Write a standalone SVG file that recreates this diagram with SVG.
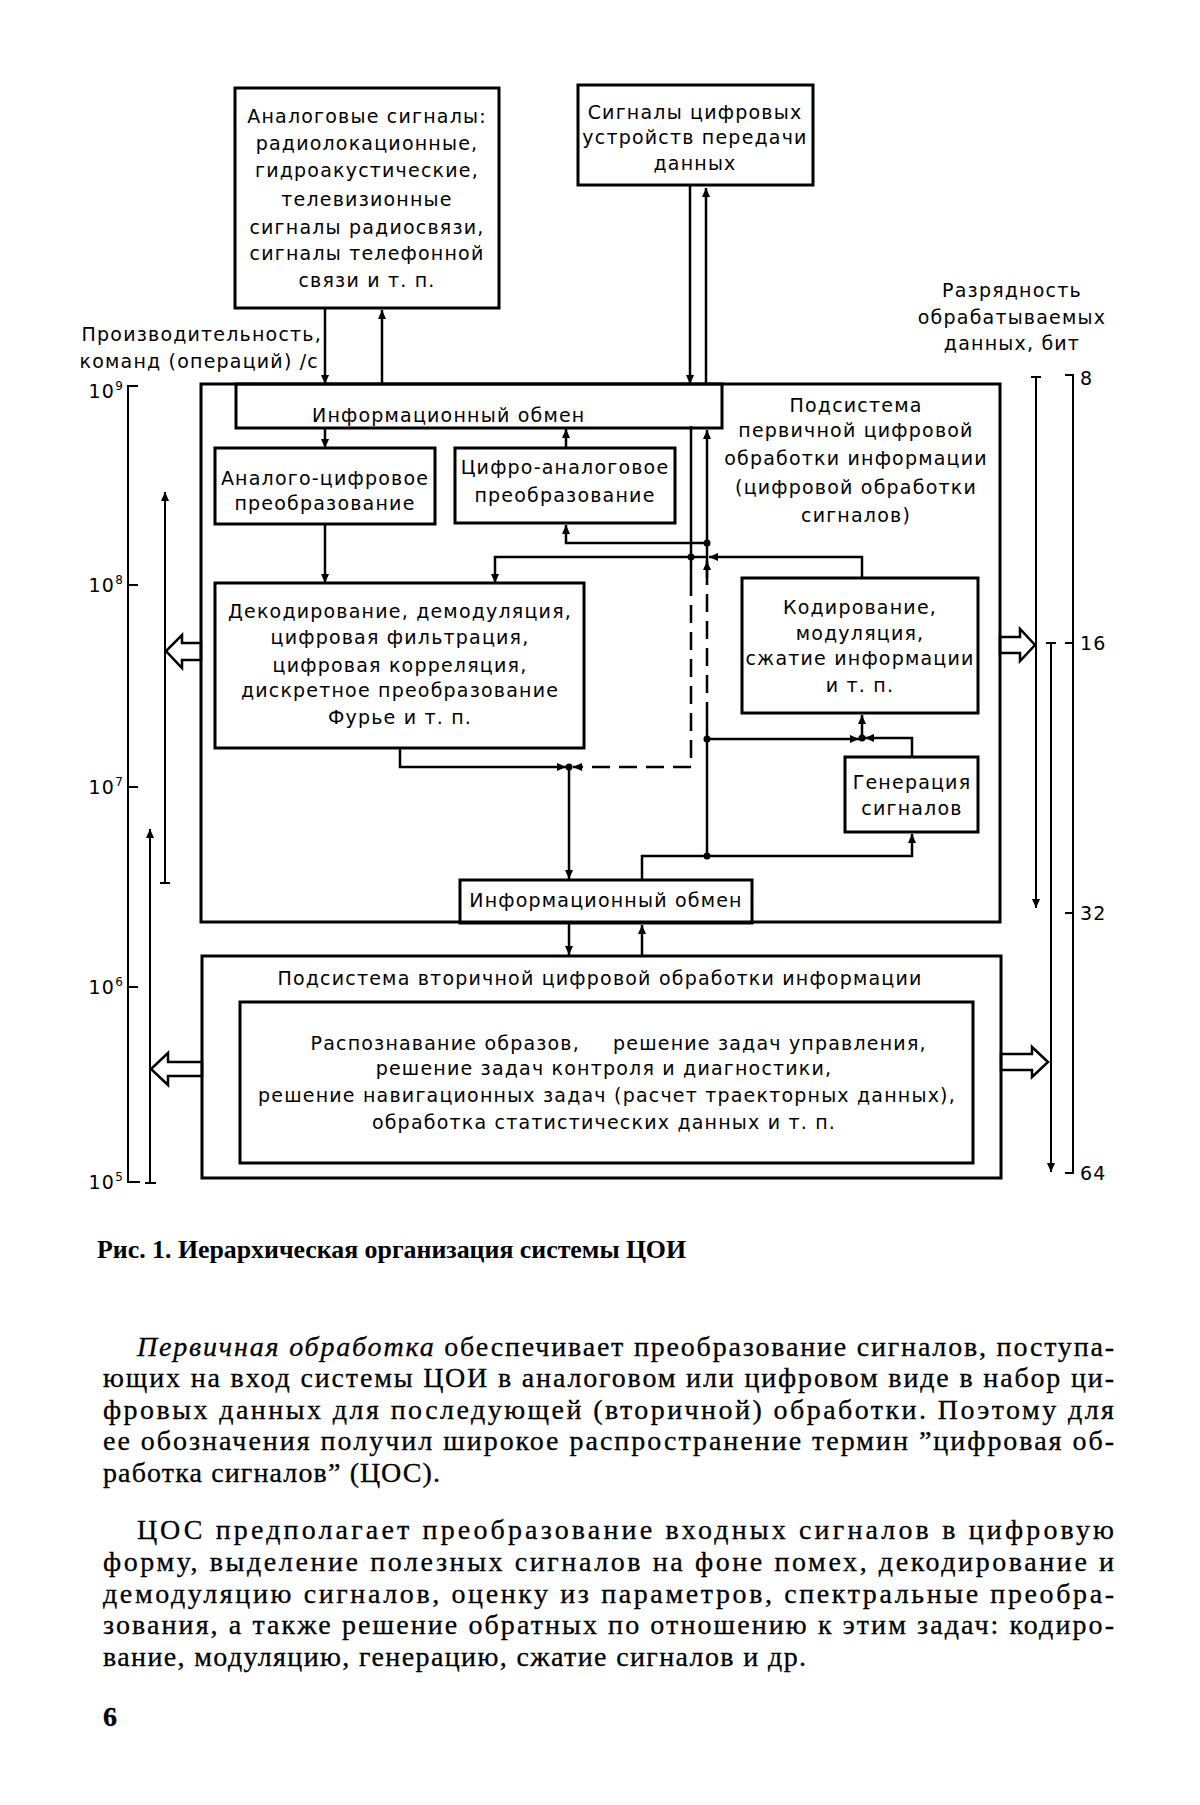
<svg xmlns="http://www.w3.org/2000/svg" width="1200" height="1805" viewBox="0 0 1200 1805">
<defs>
<style>
.box{fill:none;stroke:#000;stroke-width:3}
.ln{fill:none;stroke:#000;stroke-width:2.5}
.thin{fill:none;stroke:#000;stroke-width:2}
.dash{stroke-dasharray:18 9}
.hol{fill:#fff;stroke:#000;stroke-width:2.5;stroke-linejoin:miter}
.dot{fill:#000}
.t{font-family:"DejaVu Sans",sans-serif;font-size:19px;letter-spacing:1.2px;fill:#000}
.c{text-anchor:middle}
.e{text-anchor:end}
.sup{font-size:12px}
.body{font-family:"Liberation Serif",serif;font-size:28px;fill:#000;stroke:#000;stroke-width:0.3}
.cap{font-family:"Liberation Serif",serif;font-size:26px;font-weight:bold;fill:#000}
</style>
<marker id="arr" viewBox="0 0 10 10" refX="10" refY="5" markerWidth="12" markerHeight="9" markerUnits="userSpaceOnUse" orient="auto">
<path d="M0,0.5 L10,5 L0,9.5 z" fill="#000"/>
</marker>
</defs>
<rect width="1200" height="1805" fill="#fff"/>

<g id="connectors">
<path class="ln" d="M325,308 V384" marker-end="url(#arr)"/>
<path class="ln" d="M382,384 V310" marker-end="url(#arr)"/>
<path class="ln" d="M690,186 V384" marker-end="url(#arr)"/>
<path class="ln" d="M706,384 V188" marker-end="url(#arr)"/>
<path class="ln" d="M325,428 V448" marker-end="url(#arr)"/>
<path class="ln" d="M566,448 V429" marker-end="url(#arr)"/>
<path class="ln" d="M325,524 V583" marker-end="url(#arr)"/>
<path class="ln" d="M707,543 H566 V525" marker-end="url(#arr)"/>
<path class="ln" d="M707,557 H495 V583" marker-end="url(#arr)"/>
<path class="ln" d="M862,578 V557 H709" marker-end="url(#arr)"/>
<path class="ln" d="M691,426 V578"/>
<path class="ln dash" d="M691,578 V767 H573" marker-end="url(#arr)"/>
<path class="ln" d="M707,856 V720"/>
<path class="ln dash" d="M707,720 V580"/>
<path class="ln" d="M707,580 V430" marker-end="url(#arr)"/>
<path class="ln" d="M707,578 V561" marker-end="url(#arr)"/>
<path class="ln" d="M400,748 V767 H566" marker-end="url(#arr)"/>
<path class="ln" d="M569,767 V879" marker-end="url(#arr)"/>
<path class="ln" d="M707,739 H859" marker-end="url(#arr)"/>
<path class="ln" d="M912,757 V738 H865" marker-end="url(#arr)"/>
<path class="ln" d="M862,738 V715" marker-end="url(#arr)"/>
<path class="ln" d="M642,880 V856 H912 V834" marker-end="url(#arr)"/>
<path class="ln" d="M569,923 V955" marker-end="url(#arr)"/>
<path class="ln" d="M642,956 V925" marker-end="url(#arr)"/>
<circle class="dot" cx="691" cy="557" r="3.5"/>
<circle class="dot" cx="707" cy="543" r="3.5"/>
<circle class="dot" cx="569" cy="767" r="3.5"/>
<circle class="dot" cx="707" cy="739" r="3.5"/>
<circle class="dot" cx="862" cy="738" r="3.5"/>
<circle class="dot" cx="707" cy="856" r="3.5"/>
<polygon class="hol" points="201,643 182,643 182,635 166,651 182,668 182,660 201,660"/>
<polygon class="hol" points="202,1062 168,1062 168,1053 151,1069 168,1085 168,1076 202,1076"/>
<polygon class="hol" points="1000,637 1020,637 1020,629 1035,645 1020,661 1020,653 1000,653"/>
<polygon class="hol" points="1001,1054 1032,1054 1032,1047 1048,1062 1032,1077 1032,1070 1001,1070"/>
</g>

<g id="scale-left">
<path class="thin" d="M138,386 H128 V1182 H140"/>
<path class="thin" d="M128,585 H138 M128,787 H138 M128,987 H138"/>
<path class="thin" d="M165,883 V492" marker-end="url(#arr)"/>
<path class="thin" d="M160,883 H170"/>
<path class="thin" d="M150,1183 V829" marker-end="url(#arr)"/>
<path class="thin" d="M145,1183 H156"/>
<text class="t e" x="124" y="398">10<tspan class="sup" dy="-8">9</tspan></text>
<text class="t e" x="124" y="592">10<tspan class="sup" dy="-8">8</tspan></text>
<text class="t e" x="124" y="794">10<tspan class="sup" dy="-8">7</tspan></text>
<text class="t e" x="124" y="994">10<tspan class="sup" dy="-8">6</tspan></text>
<text class="t e" x="124" y="1189">10<tspan class="sup" dy="-8">5</tspan></text>
<text class="t e" x="322" y="341">Производительность,</text>
<text class="t e" x="319" y="368">команд (операций) /с</text>
</g>

<g id="scale-right">
<path class="thin" d="M1036,377 V908" marker-end="url(#arr)"/>
<path class="thin" d="M1031,377 H1041"/>
<path class="thin" d="M1051,643 V1172" marker-end="url(#arr)"/>
<path class="thin" d="M1046,643 H1056"/>
<path class="thin" d="M1065,375 H1073 V1173 H1065"/>
<path class="thin" d="M1065,643 H1073 M1065,913 H1073"/>
<text class="t" x="1080" y="385">8</text>
<text class="t" x="1080" y="650">16</text>
<text class="t" x="1080" y="920">32</text>
<text class="t" x="1080" y="1180">64</text>
<text class="t c" x="1012" y="297">Разрядность</text>
<text class="t c" x="1012" y="324">обрабатываемых</text>
<text class="t c" x="1012" y="350">данных, бит</text>
</g>

<g id="analog">
<rect class="box" x="235" y="88" width="264" height="220"/>
<text class="t c" x="367" y="123">Аналоговые сигналы:</text>
<text class="t c" x="367" y="150">радиолокационные,</text>
<text class="t c" x="367" y="177">гидроакустические,</text>
<text class="t c" x="367" y="206">телевизионные</text>
<text class="t c" x="367" y="234">сигналы радиосвязи,</text>
<text class="t c" x="367" y="260">сигналы телефонной</text>
<text class="t c" x="367" y="287">связи и т. п.</text>
</g>

<g id="digital">
<rect class="box" x="578" y="85" width="235" height="100"/>
<text class="t c" x="695" y="119">Сигналы цифровых</text>
<text class="t c" x="695" y="144">устройств передачи</text>
<text class="t c" x="695" y="170">данных</text>
</g>

<g id="primary">
<rect class="box" x="201" y="384" width="799" height="538"/>
<text class="t c" x="856" y="412">Подсистема</text>
<text class="t c" x="856" y="437">первичной цифровой</text>
<text class="t c" x="856" y="465">обработки информации</text>
<text class="t c" x="856" y="494">(цифровой обработки</text>
<text class="t c" x="856" y="522">сигналов)</text>
</g>

<g id="info-top">
<rect class="box" x="236" y="384" width="486" height="44"/>
<text class="t" x="312" y="422">Информационный обмен</text>
</g>

<g id="adc">
<rect class="box" x="215" y="448" width="220" height="76"/>
<text class="t c" x="325" y="485">Аналого-цифровое</text>
<text class="t c" x="325" y="510">преобразование</text>
</g>

<g id="dac">
<rect class="box" x="455" y="448" width="220" height="75"/>
<text class="t c" x="565" y="474">Цифро-аналоговое</text>
<text class="t c" x="565" y="502">преобразование</text>
</g>

<g id="decoding">
<rect class="box" x="215" y="583" width="369" height="165"/>
<text class="t c" x="400" y="618">Декодирование,  демодуляция,</text>
<text class="t c" x="400" y="644">цифровая фильтрация,</text>
<text class="t c" x="400" y="672">цифровая корреляция,</text>
<text class="t c" x="400" y="697">дискретное преобразование</text>
<text class="t c" x="400" y="724">Фурье и т. п.</text>
</g>

<g id="coding">
<rect class="box" x="742" y="578" width="236" height="135"/>
<text class="t c" x="860" y="614">Кодирование,</text>
<text class="t c" x="860" y="640">модуляция,</text>
<text class="t c" x="860" y="665">сжатие информации</text>
<text class="t c" x="860" y="692">и т. п.</text>
</g>

<g id="generation">
<rect class="box" x="845" y="757" width="133" height="75"/>
<text class="t c" x="912" y="789">Генерация</text>
<text class="t c" x="912" y="815">сигналов</text>
</g>

<g id="info-bottom">
<rect class="box" x="460" y="880" width="292" height="43"/>
<text class="t c" x="606" y="907">Информационный обмен</text>
</g>

<g id="secondary">
<rect class="box" x="202" y="956" width="799" height="222"/>
<text class="t c" x="600" y="985">Подсистема вторичной цифровой обработки информации</text>
<rect class="box" x="240" y="1002" width="733" height="161"/>
<text class="t e" x="580" y="1050">Распознавание образов,</text>
<text class="t" x="613" y="1050">решение задач управления,</text>
<text class="t c" x="604" y="1075">решение задач контроля и диагностики,</text>
<text class="t c" x="607" y="1102">решение навигационных задач (расчет траекторных данных),</text>
<text class="t c" x="604" y="1129">обработка статистических данных и т. п.</text>
</g>

<g id="caption">
<text class="cap" x="97" y="1258" textLength="589" lengthAdjust="spacingAndGlyphs">Рис. 1. Иерархическая организация системы ЦОИ</text>
</g>

<g id="body-text">
<text class="body" x="137" y="1356" textLength="977" lengthAdjust="spacing"><tspan font-style="italic">Первичная обработка</tspan> обеспечивает преобразование сигналов, поступа-</text>
<text class="body" x="103" y="1387" textLength="1011" lengthAdjust="spacing">ющих на вход системы ЦОИ в аналоговом или цифровом виде в набор ци-</text>
<text class="body" x="103" y="1419" textLength="1011" lengthAdjust="spacing">фровых данных для последующей (вторичной) обработки. Поэтому для</text>
<text class="body" x="103" y="1450" textLength="1011" lengthAdjust="spacing">ее обозначения получил широкое распространение термин ”цифровая об-</text>
<text class="body" x="103" y="1482" textLength="337" lengthAdjust="spacing">работка сигналов” (ЦОС).</text>
<text class="body" x="137" y="1539" textLength="977" lengthAdjust="spacing">ЦОС предполагает преобразование входных сигналов в цифровую</text>
<text class="body" x="103" y="1571" textLength="1011" lengthAdjust="spacing">форму, выделение полезных сигналов на фоне помех, декодирование и</text>
<text class="body" x="103" y="1603" textLength="1011" lengthAdjust="spacing">демодуляцию сигналов, оценку из параметров, спектральные преобра-</text>
<text class="body" x="103" y="1634" textLength="1011" lengthAdjust="spacing">зования, а также решение обратных по отношению к этим задач: кодиро-</text>
<text class="body" x="103" y="1666" textLength="703" lengthAdjust="spacing">вание, модуляцию, генерацию, сжатие сигналов и др.</text>
<text class="body" x="103" y="1726" font-weight="bold">6</text>
</g>
</svg>
